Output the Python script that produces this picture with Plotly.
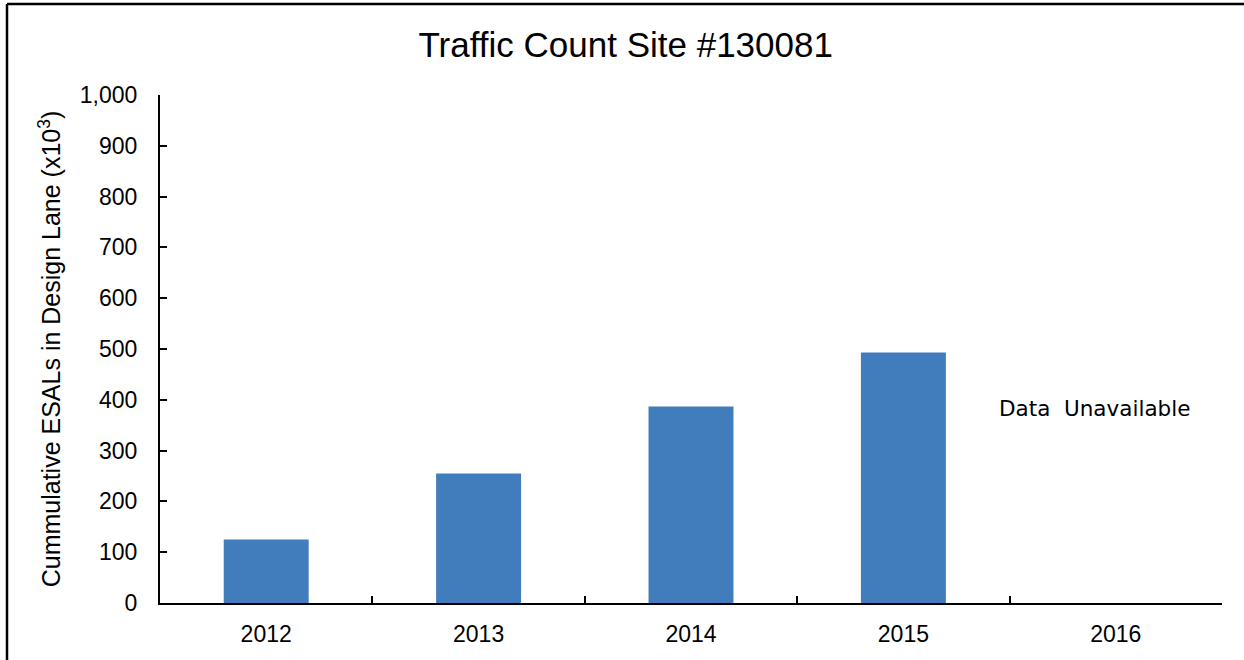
import plotly.graph_objects as go

years = ["2012", "2013", "2014", "2015", "2016"]
esals = [125, 255, 387, 493, None]
y_ticks = [0, 100, 200, 300, 400, 500, 600, 700, 800, 900, 1000]
chart_title = "Traffic Count Site #130081"
y_title = "Cummulative ESALs in Design Lane (x10<sup>3</sup>)"
note_text = "Data  Unavailable"

W, H = 1244, 660
ML, MR, MT, MB = 160, 22, 95, 57
pw = W - ML - MR
ph = H - MT - MB

def px_to_paper_x(px):
    return (px - ML) / pw

def px_to_paper_y(py):
    return (H - MB - py) / ph

fig = go.Figure()
fig.add_trace(go.Bar(
    x=years, y=esals, width=0.4,
    marker=dict(color="#417CBD", line=dict(width=0)),
    showlegend=False,
))

fig.add_annotation(x=3.9, y=382, xref="x", yref="y", text=note_text,
                   showarrow=False, font=dict(family="DejaVu Sans", size=21.5, color="black"))

# outer frame (left and top edges visible)
fx0 = px_to_paper_x(7)
fy0 = px_to_paper_y(4)
fig.add_shape(type="line", xref="paper", yref="paper", x0=fx0, x1=fx0, y0=fy0, y1=px_to_paper_y(720),
              line=dict(color="black", width=2.5))
fig.add_shape(type="line", xref="paper", yref="paper", x0=fx0, x1=px_to_paper_x(1300), y0=fy0, y1=fy0,
              line=dict(color="black", width=2.5))

fig.update_layout(
    width=W, height=H,
    margin=dict(l=ML, r=MR, t=MT, b=MB, autoexpand=False),
    paper_bgcolor="white", plot_bgcolor="white",
    font=dict(family="Liberation Sans, Arial, sans-serif", color="black"),
    title=dict(text=chart_title, x=0.503, xref="container", xanchor="center",
               y=1 - 45 / H, yanchor="middle", font=dict(size=35)),
    bargap=0.6,
)
fig.update_xaxes(
    type="category", showline=True, linecolor="black", linewidth=2,
    ticks="inside", tickson="boundaries", ticklen=7, tickwidth=1.5, tickcolor="black",
    tickfont=dict(size=23), ticklabelstandoff=9, showgrid=False, zeroline=False,
    range=[-0.5, 4.5],
)
fig.update_yaxes(
    range=[0, 1000], tickvals=y_ticks, tickformat=",",
    showline=True, linecolor="black", linewidth=2,
    ticks="inside", ticklen=7, tickwidth=1.5, tickcolor="black",
    tickfont=dict(size=23), ticklabelstandoff=16, showgrid=False, zeroline=False,
    title=dict(text=y_title, font=dict(size=25), standoff=12),
)

fig.write_html("out.html", config={"displayModeBar": False},
               post_script="document.body.style.margin='0';")
